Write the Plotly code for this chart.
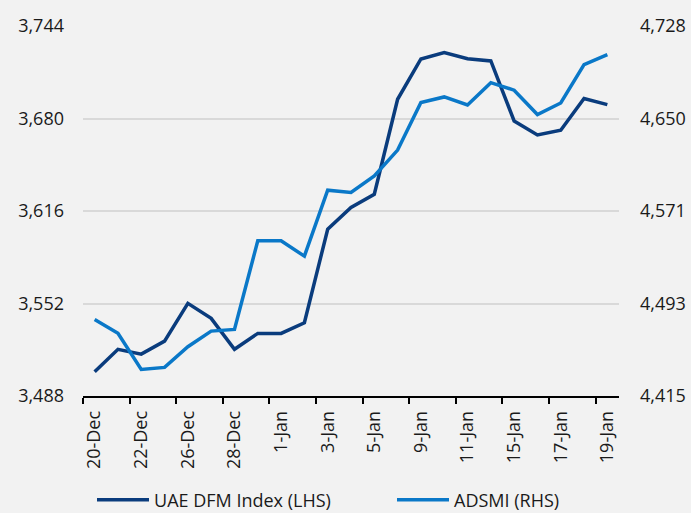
import plotly.graph_objects as go

dates = ["20-Dec", "21-Dec", "22-Dec", "23-Dec", "26-Dec", "27-Dec", "28-Dec", "29-Dec",
         "1-Jan", "2-Jan", "3-Jan", "4-Jan", "5-Jan", "6-Jan", "9-Jan", "10-Jan",
         "11-Jan", "12-Jan", "15-Jan", "16-Jan", "17-Jan", "18-Jan", "19-Jan"]

dfm = [3504.8, 3520.3, 3517.0, 3526.0, 3552.1, 3541.7, 3520.3, 3531.3,
       3531.3, 3538.7, 3603.4, 3618.4, 3627.6, 3693.3, 3721.2, 3725.6,
       3721.4, 3719.8, 3678.3, 3668.6, 3671.9, 3693.8, 3689.6]

adsmi = [4479.8, 4468.0, 4437.5, 4439.2, 4456.7, 4469.9, 4471.3, 4546.3,
         4546.3, 4533.3, 4589.1, 4587.2, 4601.2, 4623.0, 4663.2, 4668.0,
         4661.2, 4680.1, 4673.7, 4653.1, 4662.9, 4695.4, 4703.8]

left_ticks = [3488, 3552, 3616, 3680, 3744]
left_text = ["3,488", "3,552", "3,616", "3,680", "3,744"]
right_ticks = [4415, 4493.25, 4571.5, 4649.75, 4728]
right_text = ["4,415", "4,493", "4,571", "4,650", "4,728"]

DARK = "#0A3C7D"
LIGHT = "#0A78C8"
FONT = "Open Sans"
TXT = "#1a1a1a"

fig = go.Figure()
fig.add_trace(go.Scatter(x=dates, y=dfm, name="UAE DFM Index (LHS)", mode="lines",
                         line=dict(color=DARK, width=3.5), yaxis="y", legend="legend"))
fig.add_trace(go.Scatter(x=dates, y=adsmi, name="ADSMI (RHS)", mode="lines",
                         line=dict(color=LIGHT, width=3.5), yaxis="y2", legend="legend2"))

leg_common = dict(orientation="h", yanchor="middle", y=-0.281, xanchor="left",
                  itemwidth=52, font=dict(family=FONT, size=18, color=TXT),
                  bgcolor="rgba(0,0,0,0)", borderwidth=0)

fig.update_layout(
    width=691, height=513,
    margin=dict(l=83, r=72, t=26, b=117, autoexpand=False),
    paper_bgcolor="#F2F2F2", plot_bgcolor="#F2F2F2",
    font=dict(family=FONT, size=18, color=TXT),
    showlegend=True,
    legend=dict(x=0.0168, **leg_common),
    legend2=dict(x=0.5765, **leg_common),
    xaxis=dict(type="category", tickmode="linear", tick0=0, dtick=2, automargin=False,
               tickangle=-90, ticks="outside", ticklen=6, tickwidth=1.5, tickcolor="#000",
               tickson="boundaries", showline=True, linecolor="#000", linewidth=1.5,
               ticklabelstandoff=6,
               showgrid=False, range=[-0.5, 22.5], tickfont=dict(family=FONT, size=18, color=TXT)),
    yaxis=dict(range=[3488, 3744], tickmode="array", tickvals=left_ticks, ticktext=left_text,
               showgrid=True, gridcolor="#D9D9D9", gridwidth=1.5, zeroline=False, automargin=False,
               showline=False, ticks="", ticklabelstandoff=18,
               tickfont=dict(family=FONT, size=18, color=TXT)),
    yaxis2=dict(range=[4415, 4728], tickmode="array", tickvals=right_ticks, ticktext=right_text,
                overlaying="y", side="right", showgrid=False, zeroline=False, showline=False,
                ticks="", ticklabelstandoff=20, automargin=False,
                tickfont=dict(family=FONT, size=18, color=TXT)),
)

fig.write_html("out.html", config={"displayModeBar": False},
               post_script="document.body.style.margin='0';document.body.style.background='#F2F2F2';")
